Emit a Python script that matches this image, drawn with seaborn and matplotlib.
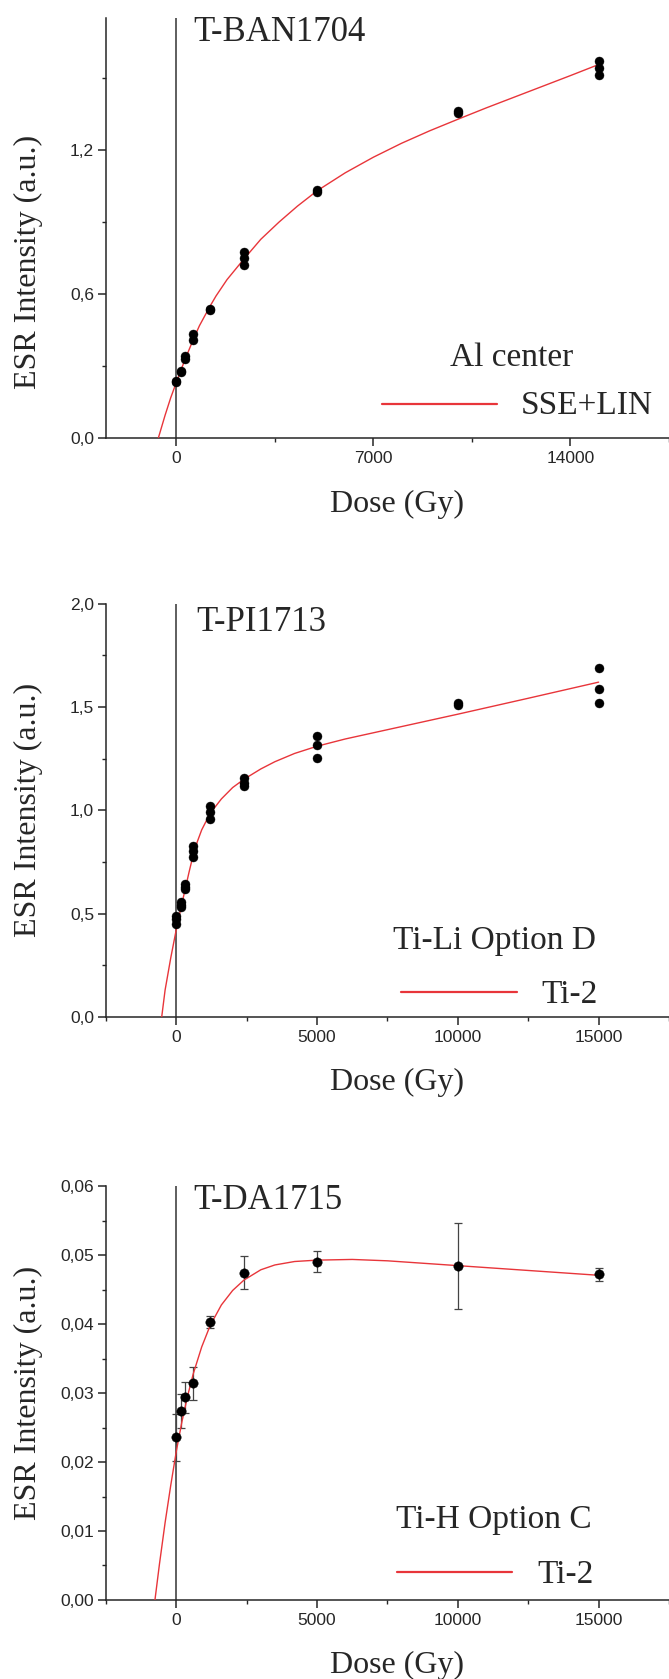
import numpy as np
import pandas as pd
import seaborn as sns
import matplotlib.pyplot as plt
from matplotlib.ticker import MultipleLocator, FuncFormatter

sns.set_style("ticks")
plt.rcParams.update({
    "font.family": "Liberation Sans",
    "font.size": 12.5,
    "axes.linewidth": 1.1,
    "xtick.major.width": 1.1,
    "ytick.major.width": 1.1,
    "xtick.minor.width": 1.0,
    "ytick.minor.width": 1.0,
    "xtick.major.size": 5.5,
    "ytick.major.size": 5.5,
    "xtick.minor.size": 3,
    "ytick.minor.size": 3,
    "xtick.direction": "out",
    "ytick.direction": "out",
})

SERIF = "Liberation Serif"
RED = "#e8353a"

# --- T-BAN1704, Al center (measured points) ---
ban_dose = [0, 0, 150, 150, 300, 300, 600, 600, 1200, 1200,
            2400, 2400, 2400, 5000, 5000, 10000, 10000, 15000, 15000, 15000]
ban_esr = [0.236, 0.232, 0.28, 0.276, 0.34, 0.33, 0.435, 0.41, 0.539, 0.535,
           0.777, 0.75, 0.722, 1.035, 1.025, 1.364, 1.356, 1.569, 1.542, 1.514]
# SSE+LIN fit curve
ban_fit_dose = [-640, -400, -200, 0, 300, 600, 820, 1200, 1410, 1800, 2380, 3000,
                3650, 4300, 5000, 6000, 7000, 8000, 9000, 10000, 11000, 12000,
                13000, 14000, 15000]
ban_fit_esr = [0.0, 0.095, 0.168, 0.232, 0.325, 0.41, 0.468, 0.55, 0.592, 0.66,
               0.743, 0.828, 0.9, 0.966, 1.03, 1.105, 1.17, 1.228, 1.28, 1.328,
               1.375, 1.42, 1.465, 1.51, 1.556]

# --- T-PI1713, Ti-Li option D ---
pi_dose = [0, 0, 0, 150, 150, 150, 300, 300, 300, 600, 600, 600,
           1200, 1200, 1200, 2400, 2400, 2400, 5000, 5000, 5000,
           10000, 10000, 15000, 15000, 15000]
pi_esr = [0.49, 0.475, 0.452, 0.558, 0.544, 0.532, 0.642, 0.63, 0.618,
          0.829, 0.803, 0.774, 1.019, 0.991, 0.96, 1.154, 1.131, 1.119,
          1.361, 1.318, 1.252, 1.52, 1.511, 1.687, 1.586, 1.52]
pi_fit_dose = [-520, -400, -200, 0, 150, 300, 450, 600, 750, 900, 1200, 1600,
               2000, 2400, 3000, 3500, 4200, 5000, 6000, 7500, 10000, 12500, 15000]
pi_fit_esr = [0.0, 0.13, 0.285, 0.425, 0.52, 0.61, 0.70, 0.785, 0.85, 0.905,
              0.985, 1.055, 1.11, 1.15, 1.2, 1.235, 1.275, 1.31, 1.345, 1.39,
              1.465, 1.542, 1.62]

# --- T-DA1715, Ti-H option C (mean +/- error) ---
da_dose = [0, 150, 300, 600, 1200, 2400, 5000, 10000, 15000]
da_esr = [0.02362, 0.02743, 0.02937, 0.03145, 0.0403, 0.04744, 0.0491, 0.04842, 0.04723]
da_err = [0.0034, 0.0025, 0.0022, 0.0024, 0.0009, 0.0024, 0.0015, 0.0062, 0.0009]
da_fit_dose = [-760, -600, -400, -200, 0, 200, 400, 600, 900, 1200, 1600, 2000,
               2400, 3000, 3500, 4200, 5000, 6250, 7500, 10000, 12500, 15000]
da_fit_esr = [0.0, 0.0052, 0.0112, 0.0166, 0.0216, 0.0259, 0.0296, 0.0328, 0.0367,
              0.0398, 0.0428, 0.0449, 0.0464, 0.0479, 0.0486, 0.0491, 0.0493,
              0.0494, 0.0492, 0.0485, 0.0478, 0.0471]

fig = plt.figure(figsize=(6.69, 16.79), dpi=100)

# axes rectangles [left, bottom, width, height] in figure fraction
ax1 = fig.add_axes([0.1584, 0.7391, 0.8416, 0.2502])
ax2 = fig.add_axes([0.1584, 0.3943, 0.8416, 0.2462])
ax3 = fig.add_axes([0.1584, 0.0471, 0.8416, 0.2463])


def style_axis(ax, ymax, ymaj, xmaj, fmt):
    ax.set_xlim(-2500, 17500)
    ax.set_ylim(0, ymax)
    ax.xaxis.set_major_locator(MultipleLocator(xmaj))
    ax.xaxis.set_minor_locator(MultipleLocator(xmaj / 2))
    ax.yaxis.set_major_locator(MultipleLocator(ymaj))
    ax.yaxis.set_minor_locator(MultipleLocator(ymaj / 2))
    ax.yaxis.set_major_formatter(FuncFormatter(lambda v, p: fmt.format(v).replace(".", ",")))
    ax.tick_params(axis="x", which="major", pad=4)
    ax.tick_params(axis="y", which="major", pad=3)
    for s in ["top", "right"]:
        ax.spines[s].set_visible(False)
    ax.axvline(0, color="#333333", lw=1.1, zorder=1)
    ax.set_xlabel("Dose (Gy)", family=SERIF, fontsize=23, va="center")
    ax.set_ylabel("ESR Intensity (a.u.)", family=SERIF, fontsize=23, va="center")
    ax.xaxis.set_label_coords(0.517, -0.158)


def legend_block(ax, head, name, xh, yh, xn, yn, x0, x1, yl):
    ax.text(xh, yh, head, transform=ax.transAxes, family=SERIF, fontsize=24, va="baseline")
    ax.text(xn, yn, name, transform=ax.transAxes, family=SERIF, fontsize=24, va="baseline")
    ax.plot([x0, x1], [yl, yl], transform=ax.transAxes, color=RED, lw=1.6)


# top panel
df_ban = pd.DataFrame({"dose": ban_dose, "esr": ban_esr})
fit_ban = pd.DataFrame({"dose": ban_fit_dose, "esr": ban_fit_esr})
sns.lineplot(data=fit_ban, x="dose", y="esr", ax=ax1, color=RED, lw=1.0,
             sort=False, estimator=None, zorder=3)
sns.scatterplot(data=df_ban, x="dose", y="esr", ax=ax1, color="black", s=42,
                edgecolor="black", linewidth=0.3, zorder=4)
style_axis(ax1, 1.75, 0.6, 7000, "{:.1f}")
ax1.yaxis.set_label_coords(-0.138, 0.42)
ax1.text(0.155, 0.945, "T-BAN1704", transform=ax1.transAxes, family=SERIF,
         fontsize=25, va="baseline")
legend_block(ax1, "Al center", "SSE+LIN", 0.611, 0.171, 0.737, 0.057, 0.49, 0.694, 0.082)

# middle panel
df_pi = pd.DataFrame({"dose": pi_dose, "esr": pi_esr})
fit_pi = pd.DataFrame({"dose": pi_fit_dose, "esr": pi_fit_esr})
sns.lineplot(data=fit_pi, x="dose", y="esr", ax=ax2, color=RED, lw=1.0,
             sort=False, estimator=None, zorder=3)
sns.scatterplot(data=df_pi, x="dose", y="esr", ax=ax2, color="black", s=42,
                edgecolor="black", linewidth=0.3, zorder=4)
style_axis(ax2, 2.0, 0.5, 5000, "{:.1f}")
ax2.yaxis.set_label_coords(-0.138, 0.5)
ax2.text(0.16, 0.934, "T-PI1713", transform=ax2.transAxes, family=SERIF,
         fontsize=25, va="baseline")
legend_block(ax2, "Ti-Li Option D", "Ti-2", 0.509, 0.1645, 0.774, 0.034, 0.524, 0.730, 0.06)

# bottom panel
df_da = pd.DataFrame({"dose": da_dose, "esr": da_esr, "err": da_err})
fit_da = pd.DataFrame({"dose": da_fit_dose, "esr": da_fit_esr})
ax3.errorbar(df_da["dose"], df_da["esr"], yerr=df_da["err"], fmt="none",
             ecolor="#444444", elinewidth=0.9, capsize=2.6, capthick=0.9, zorder=2)
sns.lineplot(data=fit_da, x="dose", y="esr", ax=ax3, color=RED, lw=1.0,
             sort=False, estimator=None, zorder=3)
sns.scatterplot(data=df_da, x="dose", y="esr", ax=ax3, color="black", s=46,
                edgecolor="black", linewidth=0.3, zorder=4)
style_axis(ax3, 0.06, 0.01, 5000, "{:.2f}")
ax3.yaxis.set_label_coords(-0.138, 0.5)
ax3.text(0.155, 0.945, "T-DA1715", transform=ax3.transAxes, family=SERIF,
         fontsize=25, va="baseline")
legend_block(ax3, "Ti-H Option C", "Ti-2", 0.515, 0.174, 0.766, 0.040, 0.517, 0.721, 0.0685)

fig.savefig("out.png", dpi=100)
